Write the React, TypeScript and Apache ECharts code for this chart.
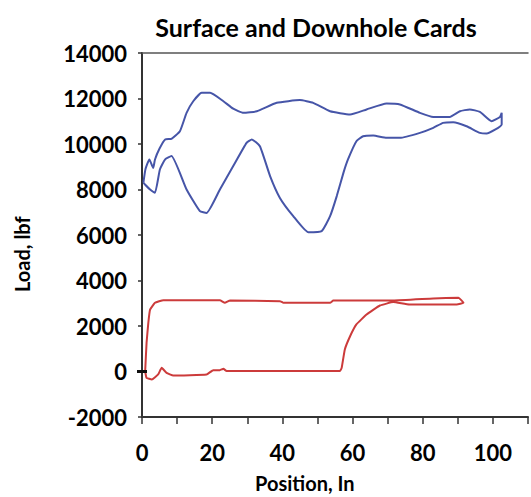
import React, { useEffect, useRef } from "react";
import * as echarts from "echarts";

// Surface card (polished rod) – position (in) vs load (lbf), traced as a closed loop
const surfaceCard: [number, number][] = [
  [0.4, 8300], [1.0, 8900], [2.1, 9320], [3.2, 8950], [3.7, 9320], [5.0, 9800],
  [6.6, 10200], [8.4, 10230], [10.8, 10560], [12.7, 11370], [14.6, 11880],
  [17.0, 12250], [19.4, 12250], [23.2, 11880], [26.0, 11550], [28.9, 11370],
  [32.7, 11440], [38.4, 11810], [45.0, 11930], [48.8, 11810], [53.6, 11440],
  [59.3, 11300], [64.0, 11520], [69.7, 11780], [73.5, 11740], [79.2, 11370],
  [83.0, 11190], [87.7, 11190], [90.6, 11440], [93.4, 11520], [96.3, 11410],
  [99.6, 11000], [102.0, 11190], [102.5, 11370], [102.5, 10860], [98.2, 10460],
  [96.3, 10490], [92.5, 10780], [88.7, 10960], [85.8, 10930], [83.0, 10710],
  [79.2, 10490], [73.5, 10270], [69.7, 10270], [65.9, 10370], [63.0, 10340],
  [61.1, 10120], [58.7, 9320], [57.4, 8730], [55.5, 7710], [53.6, 6830],
  [51.2, 6170], [47.4, 6120], [43.1, 6830], [39.3, 7630], [36.5, 8590],
  [33.6, 9900], [31.3, 10200], [29.8, 10050], [26.0, 9030], [22.2, 8000],
  [18.4, 6970], [16.5, 7050], [12.7, 8000], [8.4, 9470], [6.6, 9320],
  [5.1, 8880], [3.7, 7860], [2.3, 8000], [0.85, 8220], [0.4, 8300],
];

// Downhole card (pump) – position (in) vs load (lbf)
const downholeCard: [number, number][] = [
  [0.9, 0], [1.3, 1260], [1.8, 2140], [2.3, 2720], [3.7, 3020], [6.1, 3135],
  [22.2, 3135], [23.6, 3020], [25.1, 3120], [39.3, 3090], [40.3, 3020],
  [53.6, 3020], [54.5, 3120], [71.6, 3120], [83.0, 3210], [90.2, 3240],
  [91.6, 3020], [89.7, 2945], [81.9, 2945], [76.2, 2945], [71.6, 3050],
  [67.8, 2900], [64.0, 2505], [61.1, 2070], [59.3, 1550], [57.8, 970],
  [56.9, 160], [56.4, 20], [24.1, 20], [23.2, 120], [22.2, 60], [20.3, 60],
  [18.4, -130], [8.9, -175], [7.0, -60], [5.6, 160], [4.6, -130], [2.8, -350],
  [1.3, -280], [0.9, 0],
];

// Stroke start marker (position, load)
const startPoint: [number, number] = [0, 0];

const xTicks = [0, 20, 40, 60, 80, 100];

const FONT = "Lato, 'Open Sans', sans-serif";

export default function App() {
  const ref = useRef<HTMLDivElement>(null);

  useEffect(() => {
    if (!ref.current) return;
    const chart = echarts.init(ref.current, undefined, { renderer: "svg" });
    chart.setOption({
      animation: false,
      backgroundColor: "#ffffff",
      title: {
        text: "Surface and Downhole Cards",
        left: 311,
        top: 9,
        textAlign: "center",
        textStyle: { fontFamily: FONT, fontWeight: "bold", fontSize: 25, color: "#000" },
      },
      grid: { left: 142, top: 53, width: 386, height: 364, containLabel: false },
      xAxis: [
        {
          type: "value",
          min: 0,
          max: 110,
          interval: 10,
          axisLine: { show: true, onZero: false, lineStyle: { color: "#333", width: 2 } },
          axisTick: { show: true, length: 7, lineStyle: { color: "#333", width: 1.5 } },
          splitLine: { show: false },
          axisLabel: {
            margin: 24,
            fontFamily: FONT,
            fontWeight: "bold",
            fontSize: 22,
            color: "#000",
            formatter: (v: number) => (xTicks.includes(v) ? String(v) : ""),
          },
        },
        {
          type: "value",
          position: "top",
          min: 0,
          max: 110,
          axisLine: { show: true, onZero: false, lineStyle: { color: "#555", width: 1.5 } },
          axisTick: { show: false },
          axisLabel: { show: false },
          splitLine: { show: false },
        },
      ],
      yAxis: {
        type: "value",
        min: -2000,
        max: 14000,
        interval: 2000,
        axisLine: { show: true, onZero: false, lineStyle: { color: "#333", width: 2 } },
        axisTick: { show: true, length: 4, lineStyle: { color: "#333", width: 1.5 } },
        splitLine: { show: false },
        axisLabel: {
          margin: 15,
          fontFamily: FONT,
          fontWeight: "bold",
          fontSize: 22,
          color: "#000",
          formatter: (v: number) => String(v),
        },
      },
      graphic: [
        {
          type: "text",
          left: 255,
          top: 473,
          style: {
            text: "Position, In",
            fontFamily: FONT,
            fontWeight: "bold",
            fontSize: 20,
            fill: "#000",
          },
        },
        {
          type: "text",
          x: 12,
          y: 292,
          rotation: Math.PI / 2,
          style: {
            text: "Load, lbf",
            fontFamily: FONT,
            fontWeight: "bold",
            fontSize: 20,
            fill: "#000",
            textBaseline: "top",
          },
        },
      ],
      series: [
        {
          name: "Surface Card",
          type: "line",
          data: surfaceCard,
          showSymbol: false,
          smooth: 0.15,
          lineStyle: { color: "#4655a8", width: 2 },
          z: 3,
        },
        {
          name: "Downhole Card",
          type: "line",
          data: downholeCard,
          showSymbol: false,
          smooth: 0.1,
          lineStyle: { color: "#cc3b3b", width: 2 },
          z: 3,
          markPoint: {
            silent: true,
            symbol: "rect",
            symbolSize: [10, 3],
            itemStyle: { color: "#111" },
            label: { show: false },
            data: [{ coord: startPoint }],
          },
        },
      ],
    });
    return () => chart.dispose();
  }, []);

  return <div ref={ref} style={{ width: 531, height: 497, position: "absolute", left: 0, top: 0 }} />;
}
